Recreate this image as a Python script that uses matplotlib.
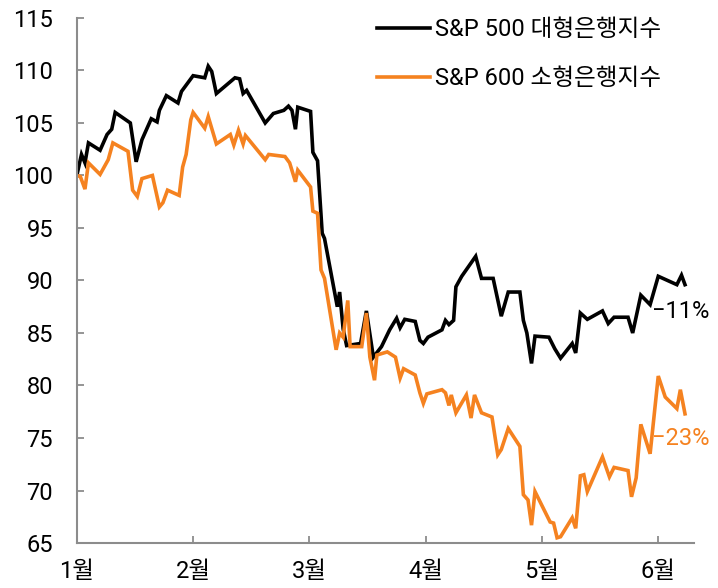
import matplotlib.pyplot as plt

plt.rcParams["font.family"] = ["Roboto", "Noto Sans CJK KR", "DejaVu Sans"]

MONTH_LABELS = ["1월", "2월", "3월", "4월", "5월", "6월"]

# x in months since Jan 1 (0 = 1월), values indexed to 100
LARGE_X = [0.00, 0.04, 0.07, 0.10, 0.20, 0.26, 0.30, 0.33, 0.46, 0.51, 0.56, 0.64, 0.69, 0.71,
           0.77, 0.87, 0.90, 1.00, 1.10, 1.13, 1.16, 1.20, 1.36, 1.40, 1.43, 1.46, 1.62, 1.69,
           1.78, 1.82, 1.85, 1.88, 1.90, 2.01, 2.03, 2.07, 2.11, 2.13, 2.24, 2.26, 2.29, 2.32,
           2.44, 2.49, 2.55, 2.62, 2.69, 2.75, 2.78, 2.82, 2.91, 2.95, 2.98, 3.02, 3.14, 3.17,
           3.20, 3.24, 3.26, 3.31, 3.43, 3.48, 3.58, 3.65, 3.71, 3.81, 3.84, 3.87, 3.91, 3.94,
           4.06, 4.11, 4.16, 4.26, 4.29, 4.33, 4.39, 4.52, 4.57, 4.62, 4.74, 4.78, 4.85, 4.93,
           5.00, 5.16, 5.20, 5.23]
LARGE_Y = [100.0, 102.0, 101.2, 103.1, 102.4, 103.9, 104.4, 106.0, 105.0, 101.3, 103.4, 105.4,
           105.1, 106.2, 107.6, 106.9, 108.0, 109.5, 109.3, 110.4, 109.9, 107.8, 109.3, 109.2,
           107.8, 108.1, 105.0, 105.9, 106.2, 106.6, 106.2, 104.4, 106.5, 106.1, 102.2, 101.4,
           94.5, 94.0, 87.5, 88.9, 85.4, 83.8, 84.0, 87.1, 82.7, 83.7, 85.3, 86.4, 85.5, 86.3,
           86.1, 84.3, 84.0, 84.6, 85.3, 86.2, 85.8, 86.2, 89.4, 90.4, 92.3, 90.2, 90.2, 86.6,
           88.9, 88.9, 86.2, 85.0, 82.1, 84.7, 84.6, 83.5, 82.6, 84.0, 83.1, 86.9, 86.3, 87.1,
           85.9, 86.5, 86.5, 85.0, 88.6, 87.7, 90.4, 89.6, 90.5, 89.6]

SMALL_X = [0.00, 0.03, 0.07, 0.10, 0.20, 0.27, 0.31, 0.44, 0.48, 0.52, 0.56, 0.65, 0.71, 0.74,
           0.78, 0.88, 0.91, 0.94, 0.98, 1.00, 1.10, 1.13, 1.20, 1.32, 1.35, 1.39, 1.43, 1.45,
           1.62, 1.65, 1.79, 1.83, 1.88, 1.90, 2.01, 2.03, 2.07, 2.10, 2.13, 2.23, 2.26, 2.29,
           2.33, 2.35, 2.45, 2.49, 2.52, 2.56, 2.58, 2.67, 2.74, 2.78, 2.81, 2.91, 2.95, 2.98,
           3.01, 3.14, 3.17, 3.20, 3.22, 3.26, 3.35, 3.39, 3.42, 3.48, 3.57, 3.62, 3.65, 3.71,
           3.81, 3.84, 3.88, 3.91, 3.94, 4.07, 4.10, 4.13, 4.16, 4.26, 4.29, 4.33, 4.36, 4.39,
           4.52, 4.58, 4.62, 4.74, 4.77, 4.81, 4.85, 4.93, 5.00, 5.06, 5.16, 5.19, 5.23]
SMALL_Y = [100.0, 99.9, 98.7, 101.2, 100.1, 101.5, 103.1, 102.3, 98.6, 98.0, 99.7, 100.0, 97.0,
           97.4, 98.6, 98.1, 100.8, 102.0, 105.3, 106.0, 104.5, 105.6, 103.0, 103.9, 102.9, 104.3,
           103.0, 103.8, 101.5, 102.0, 101.8, 101.2, 99.4, 100.5, 98.9, 96.6, 96.4, 91.0, 90.2,
           83.4, 85.0, 84.6, 88.1, 83.7, 83.7, 86.9, 82.7, 80.5, 82.9, 83.2, 82.7, 80.7, 81.6,
           81.0, 79.3, 78.3, 79.2, 79.6, 79.3, 78.1, 79.1, 77.4, 79.1, 76.9, 79.1, 77.4, 77.0,
           73.4, 73.9, 75.9, 74.2, 69.6, 69.1, 66.7, 69.9, 67.0, 66.9, 65.5, 65.6, 67.4, 66.4,
           71.4, 71.5, 69.9, 73.2, 71.3, 72.2, 71.9, 69.4, 71.2, 76.3, 73.5, 80.9, 78.9, 77.8,
           79.6, 77.3]

LARGE_LABEL = "S&P 500 대형은행지수"
SMALL_LABEL = "S&P 600 소형은행지수"
LARGE_CHANGE = "\u221211%"
SMALL_CHANGE = "\u221223%"

BLACK = "#000000"
ORANGE = "#F58220"
GREY = "#8C8C8C"
FS = 17

fig = plt.figure(figsize=(7.18, 5.88), dpi=100)
ax = fig.add_axes([0.107, 0.0765, 0.860, 0.893])

ax.plot(LARGE_X, LARGE_Y, color=BLACK, linewidth=2.6, label=LARGE_LABEL, solid_joinstyle="miter")
ax.plot(SMALL_X, SMALL_Y, color=ORANGE, linewidth=2.6, label=SMALL_LABEL, solid_joinstyle="miter")

ax.text(4.95, 87.0, LARGE_CHANGE, color=BLACK, fontsize=FS, ha="left", va="center")
ax.text(4.95, 75.0, SMALL_CHANGE, color=ORANGE, fontsize=FS, ha="left", va="center")

ax.set_xlim(0, 5.31)
ax.set_ylim(65, 115)
ax.set_xticks(range(len(MONTH_LABELS)), MONTH_LABELS)
ax.set_yticks(range(65, 116, 5))

for side in ("top", "right"):
    ax.spines[side].set_visible(False)
for side in ("left", "bottom"):
    ax.spines[side].set_color(GREY)
    ax.spines[side].set_linewidth(1.5)
ax.tick_params(axis="both", direction="in", length=5, width=1.3, color=GREY, labelsize=FS)
ax.tick_params(axis="x", pad=12)
ax.tick_params(axis="y", pad=17)

ax.legend(loc="upper left", bbox_to_anchor=(356 / 718, 1.005), bbox_transform=fig.transFigure,
          frameon=False, fontsize=FS, handlelength=2.25, handletextpad=0.2, labelspacing=1.1)

fig.savefig("out.png", dpi=100)
